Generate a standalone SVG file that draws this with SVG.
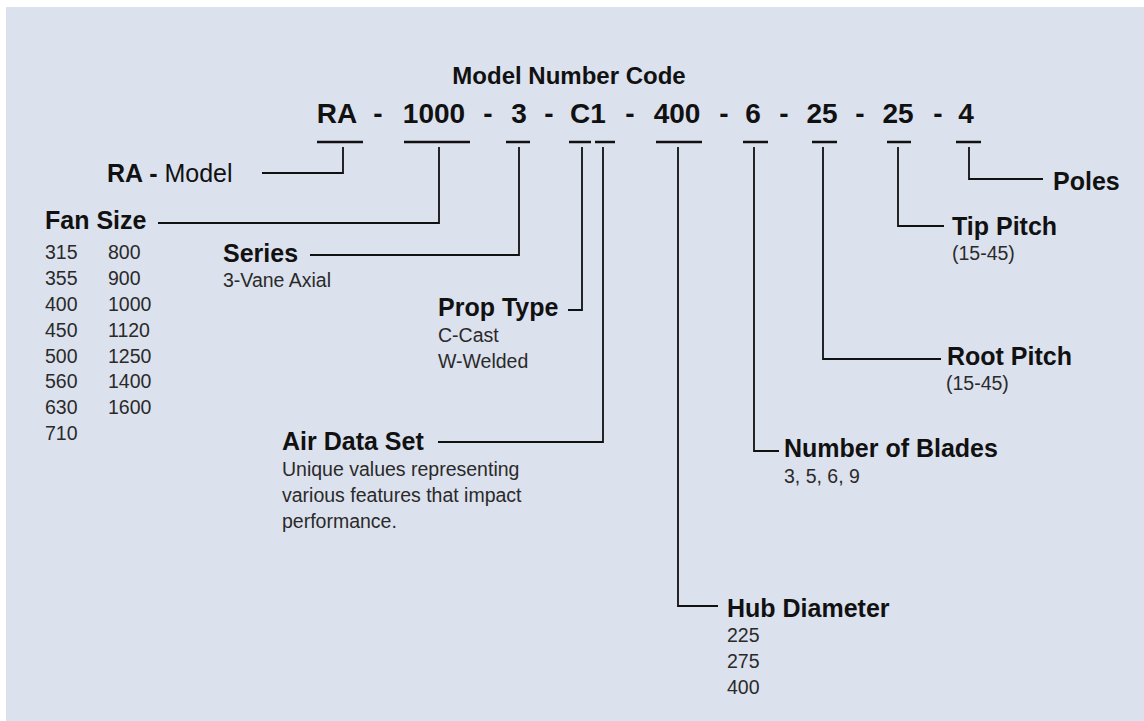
<svg xmlns="http://www.w3.org/2000/svg" width="1144" height="721" viewBox="0 0 1144 721">
<style>
.t{font-family:"Liberation Sans",Arial,sans-serif;fill:#111}
.title{font-size:24px;font-weight:bold}
.code{font-size:28px;font-weight:bold;text-anchor:middle}
.h{font-size:25px;font-weight:bold}
.r{font-size:25px;font-weight:normal}
.s{font-size:19.5px;fill:#2a2a2a}
.ul{stroke:#111;stroke-width:2.5}
.c{fill:none;stroke:#111;stroke-width:1.8}
</style>
<rect x="0" y="0" width="1144" height="721" fill="#ffffff"/>
<rect x="6" y="7" width="1138" height="714" fill="#dce1ee"/>
<g id="title"><text class="t title" x="569" y="84" text-anchor="middle">Model Number Code</text></g>
<g id="code">
<text class="t code" x="337" y="123">RA</text>
<text class="t code" x="378" y="123">-</text>
<text class="t code" x="434" y="123">1000</text>
<text class="t code" x="488" y="123">-</text>
<text class="t code" x="519" y="123">3</text>
<text class="t code" x="549" y="123">-</text>
<text class="t code" x="588" y="123">C1</text>
<text class="t code" x="630" y="123">-</text>
<text class="t code" x="677" y="123">400</text>
<text class="t code" x="724" y="123">-</text>
<text class="t code" x="753" y="123">6</text>
<text class="t code" x="784" y="123">-</text>
<text class="t code" x="822" y="123">25</text>
<text class="t code" x="860" y="123">-</text>
<text class="t code" x="898" y="123">25</text>
<text class="t code" x="938" y="123">-</text>
<text class="t code" x="966" y="123">4</text>
<line class="ul" x1="317" y1="142" x2="363" y2="142"/>
<line class="ul" x1="404" y1="142" x2="470" y2="142"/>
<line class="ul" x1="506" y1="142" x2="530" y2="142"/>
<line class="ul" x1="569" y1="142" x2="591" y2="142"/>
<line class="ul" x1="595" y1="142" x2="615" y2="142"/>
<line class="ul" x1="656" y1="142" x2="702" y2="142"/>
<line class="ul" x1="743" y1="142" x2="768" y2="142"/>
<line class="ul" x1="812" y1="142" x2="837" y2="142"/>
<line class="ul" x1="887" y1="142" x2="911" y2="142"/>
<line class="ul" x1="956" y1="142" x2="981" y2="142"/>
</g>
<g id="connectors">
<path class="c" d="M343,147 V173 H262"/>
<path class="c" d="M439,147 V223 H158"/>
<path class="c" d="M519,147 V255 H310"/>
<path class="c" d="M582,147 V310 H568"/>
<path class="c" d="M603,147 V442 H438"/>
<path class="c" d="M678,147 V606 H718"/>
<path class="c" d="M754,147 V451 H779"/>
<path class="c" d="M823,147 V359 H941"/>
<path class="c" d="M898,147 V226 H944"/>
<path class="c" d="M969,147 V179 H1043"/>
</g>
<g id="model">
<text class="t h" x="107" y="182">RA - <tspan class="r">Model</tspan></text>
</g>
<g id="fan-size">
<text class="t h" x="45" y="229">Fan Size</text>
<text class="t s" x="45" y="259">315</text>
<text class="t s" x="45" y="285">355</text>
<text class="t s" x="45" y="311">400</text>
<text class="t s" x="45" y="337">450</text>
<text class="t s" x="45" y="363">500</text>
<text class="t s" x="45" y="388">560</text>
<text class="t s" x="45" y="414">630</text>
<text class="t s" x="45" y="440">710</text>
<text class="t s" x="108" y="259">800</text>
<text class="t s" x="108" y="285">900</text>
<text class="t s" x="108" y="311">1000</text>
<text class="t s" x="108" y="337">1120</text>
<text class="t s" x="108" y="363">1250</text>
<text class="t s" x="108" y="388">1400</text>
<text class="t s" x="108" y="414">1600</text>
</g>
<g id="series">
<text class="t h" x="223" y="262">Series</text>
<text class="t s" x="223" y="287">3-Vane Axial</text>
</g>
<g id="prop-type">
<text class="t h" x="438" y="316">Prop Type</text>
<text class="t s" x="438" y="342">C-Cast</text>
<text class="t s" x="438" y="368">W-Welded</text>
</g>
<g id="air-data-set">
<text class="t h" x="282" y="450">Air Data Set</text>
<text class="t s" x="282" y="476">Unique values representing</text>
<text class="t s" x="282" y="502">various features that impact</text>
<text class="t s" x="282" y="528">performance.</text>
</g>
<g id="hub-diameter">
<text class="t h" x="727" y="617">Hub Diameter</text>
<text class="t s" x="727" y="642">225</text>
<text class="t s" x="727" y="668">275</text>
<text class="t s" x="727" y="694">400</text>
</g>
<g id="number-of-blades">
<text class="t h" x="784" y="457">Number of Blades</text>
<text class="t s" x="784" y="483">3, 5, 6, 9</text>
</g>
<g id="root-pitch">
<text class="t h" x="947" y="365">Root Pitch</text>
<text class="t s" x="946" y="390">(15-45)</text>
</g>
<g id="tip-pitch">
<text class="t h" x="952" y="235">Tip Pitch</text>
<text class="t s" x="952" y="260">(15-45)</text>
</g>
<g id="poles">
<text class="t h" x="1053" y="190">Poles</text>
</g>
</svg>
